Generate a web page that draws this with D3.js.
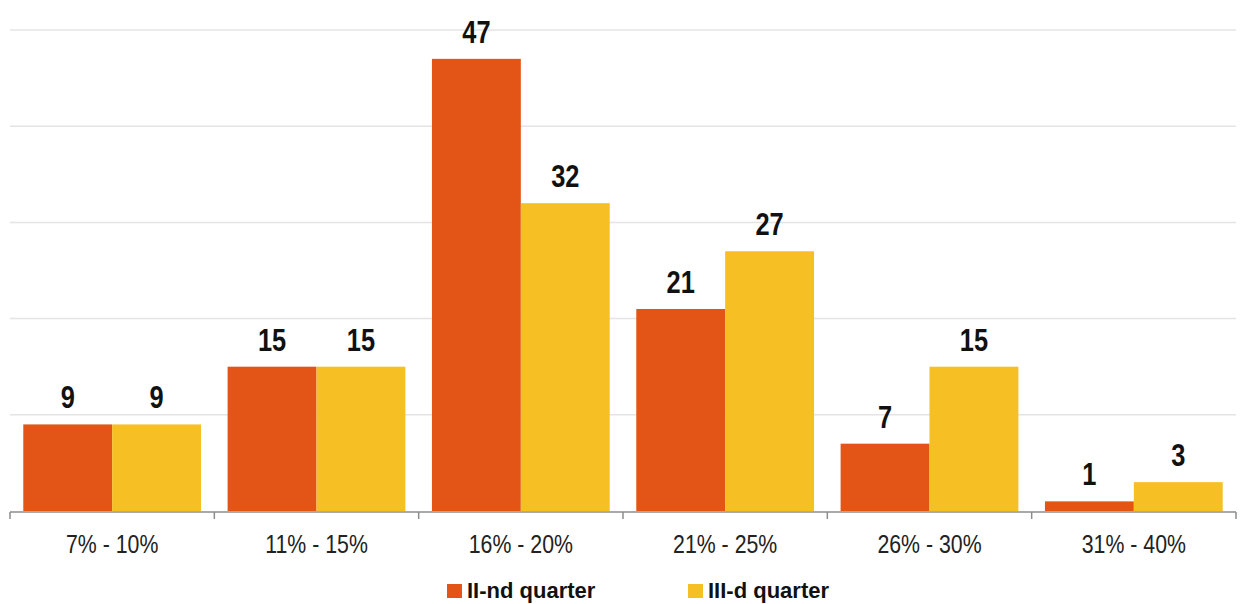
<!DOCTYPE html>
<html>
<head>
<meta charset="utf-8">
<script src="https://cdn.jsdelivr.net/npm/d3@7"></script>
<style>
  html, body { margin: 0; padding: 0; background: #fff; }
  svg { display: block; }
</style>
</head>
<body>
<svg id="chart" width="1241" height="604"></svg>
<script>
// Share ranges on the x axis
const categories = ["7% - 10%", "11% - 15%", "16% - 20%", "21% - 25%", "26% - 30%", "31% - 40%"];
// Series names and counts per range
const seriesNames = ["II-nd quarter", "III-d quarter"];
const q2Values = [9, 15, 47, 21, 7, 1];
const q3Values = [9, 15, 32, 27, 15, 3];
// Gridline values on the value axis
const gridTicks = [10, 20, 30, 40, 50];

const colors = ["#E35417", "#F6BF24"];
const font = "'Liberation Sans Narrow', 'Arial Narrow', 'Liberation Sans', Arial, sans-serif";
const wide = "'Liberation Sans', Arial, sans-serif";
// horizontal condensing applied to the narrow-style labels
const squeeze = 0.82;

const svg = d3.select("#chart");
const plotLeft = 10, plotRight = 1236, plotTop = 30, plotBottom = 511;

const x0 = d3.scaleBand().domain(categories).range([plotLeft, plotRight])
  .paddingInner(0.13).paddingOuter(0.065);
const x1 = d3.scaleBand().domain(seriesNames).range([0, x0.bandwidth()]);
const y = d3.scaleLinear().domain([0, 50]).range([plotBottom, plotTop]);

// Horizontal gridlines
svg.append("g").selectAll("line").data(gridTicks).join("line")
  .attr("x1", plotLeft).attr("x2", plotRight)
  .attr("y1", d => y(d)).attr("y2", d => y(d))
  .attr("stroke", "#e4e4e4").attr("stroke-width", 1.5);

const rows = categories.map((c, i) => ({ cat: c, vals: [q2Values[i], q3Values[i]] }));

const groups = svg.append("g").selectAll("g").data(rows).join("g")
  .attr("transform", d => `translate(${x0(d.cat)},0)`);

groups.selectAll("rect").data(d => d.vals.map((v, k) => ({ v, k }))).join("rect")
  .attr("x", d => x1(seriesNames[d.k]))
  .attr("width", x1.bandwidth())
  .attr("y", d => y(d.v))
  .attr("height", d => y(0) - y(d.v))
  .attr("fill", d => colors[d.k]);

// Value labels above bars
groups.selectAll("text").data(d => d.vals.map((v, k) => ({ v, k }))).join("text")
  .attr("transform", d =>
    `translate(${x1(seriesNames[d.k]) + x1.bandwidth() / 2},${y(d.v) - 16}) scale(${squeeze},1)`)
  .attr("text-anchor", "middle")
  .attr("font-family", font).attr("font-weight", "bold")
  .attr("font-size", 31).attr("fill", "#111")
  .text(d => d.v);

// Category axis with ticks between ranges
const axis = svg.append("g");
axis.append("line")
  .attr("x1", plotLeft).attr("x2", plotRight)
  .attr("y1", plotBottom + 1).attr("y2", plotBottom + 1)
  .attr("stroke", "#8c8c8c").attr("stroke-width", 1.5);
const step = x0.step();
const boundaries = d3.range(categories.length + 1).map(i => plotLeft + i * step);
axis.selectAll("line.tick").data(boundaries).join("line")
  .attr("class", "tick")
  .attr("x1", d => d).attr("x2", d => d)
  .attr("y1", plotBottom + 1).attr("y2", plotBottom + 8)
  .attr("stroke", "#8c8c8c").attr("stroke-width", 1.5);
axis.selectAll("text").data(categories).join("text")
  .attr("transform", d => `translate(${x0(d) + x0.bandwidth() / 2},553) scale(${squeeze},1)`)
  .attr("text-anchor", "middle")
  .attr("font-family", font).attr("font-size", 26).attr("fill", "#222")
  .text(d => d);

// Legend
const legendX = [447, 688];
const legend = svg.append("g").selectAll("g").data(seriesNames).join("g")
  .attr("transform", (d, i) => `translate(${legendX[i]},0)`);
legend.append("rect")
  .attr("x", 0).attr("y", 584).attr("width", 15).attr("height", 14)
  .attr("fill", (d, i) => colors[i]);
legend.append("text")
  .attr("x", 20).attr("y", 598)
  .attr("font-family", wide).attr("font-weight", "bold")
  .attr("font-size", 22).attr("fill", "#111")
  .text(d => d);
</script>
</body>
</html>
